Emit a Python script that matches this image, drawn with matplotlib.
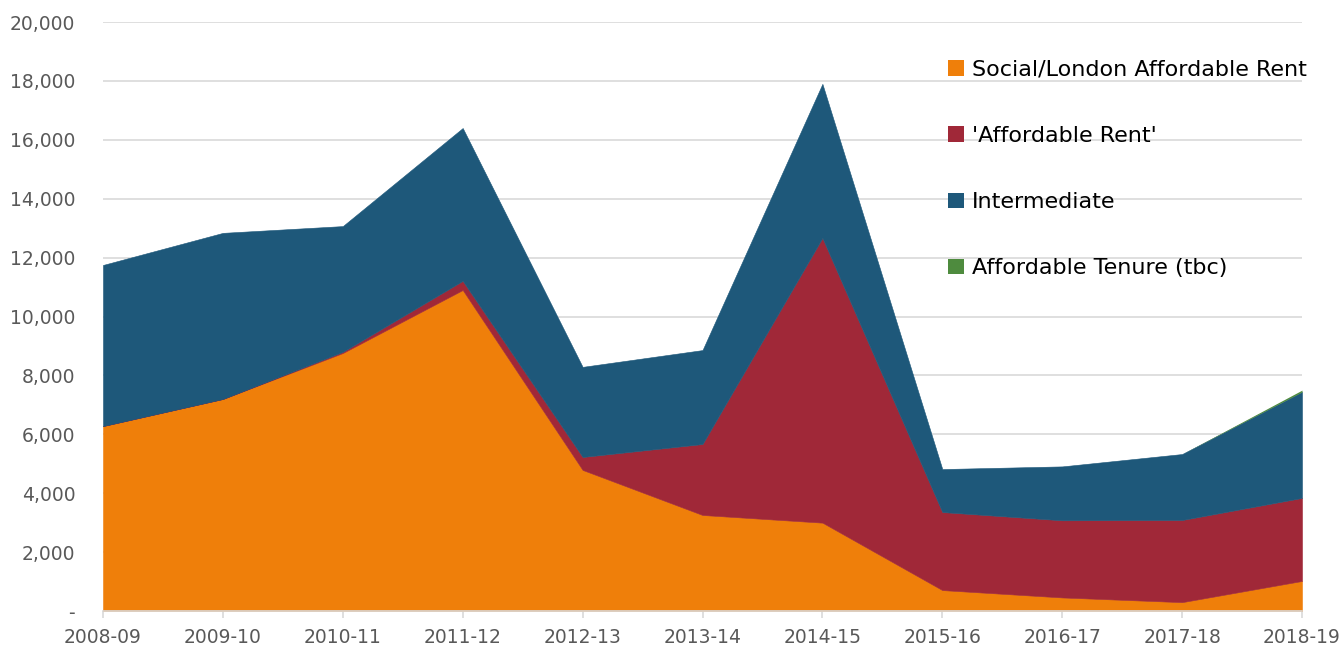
import matplotlib
matplotlib.use("Agg")
import matplotlib.pyplot as plt
from matplotlib.patches import Patch
from matplotlib.ticker import FuncFormatter

years = ['2008-09', '2009-10', '2010-11', '2011-12', '2012-13', '2013-14',
         '2014-15', '2015-16', '2016-17', '2017-18', '2018-19']
social = [6280, 7200, 8760, 10900, 4790, 3260, 3000, 710, 460, 300, 1020]
afford_rent = [0, 0, 40, 310, 440, 2410, 9670, 2650, 2620, 2790, 2820]
intermediate = [5470, 5640, 4270, 5190, 3060, 3190, 5230, 1460, 1830, 2240, 3600]
tenure = [0, 0, 0, 0, 0, 0, 0, 0, 0, 0, 60]

labels = ['Social/London Affordable Rent', "'Affordable Rent'",
          'Intermediate', 'Affordable Tenure (tbc)']
colors = ['#EF7F0A', '#A02838', '#1E587A', '#4E8B3E']

fig = plt.figure(figsize=(13.44, 6.54), dpi=100)
ax = fig.add_axes([103 / 1344, 43 / 654, 1199 / 1344, 589 / 654])

x = list(range(len(years)))
base = [0] * len(x)
for vals, c in zip([social, afford_rent, intermediate, tenure], colors):
    top = [b + v for b, v in zip(base, vals)]
    lw = 0 if c == colors[-1] else 0.4
    ax.fill_between(x, base, top, color=c, linewidth=lw, edgecolor=c, zorder=2)
    base = top

ax.set_xlim(0, len(years) - 1)
ax.set_ylim(0, 20000)
ax.set_yticks(range(0, 20001, 2000))
ax.yaxis.set_major_formatter(FuncFormatter(lambda v, p: '-' if v == 0 else f'{int(v):,}'))
ax.set_xticks(x)
ax.set_xticklabels(years)

ax.grid(axis='y', color='#d9d9d9', linewidth=1.2, zorder=0)
ax.set_axisbelow(True)
for s in ['top', 'right', 'left']:
    ax.spines[s].set_visible(False)
ax.spines['bottom'].set_color('#d9d9d9')
ax.spines['bottom'].set_linewidth(1.2)
ax.tick_params(axis='y', length=0, pad=20, labelsize=13.5, labelcolor='#595959')
ax.tick_params(axis='x', length=5, color='#d9d9d9', width=1.2, pad=7,
               labelsize=13.5, labelcolor='#595959')

handles = [Patch(facecolor=c, edgecolor='none') for c in colors]
ax.legend(handles, labels, loc='upper left', bbox_to_anchor=(0.705, 0.936),
          frameon=False, fontsize=16, labelspacing=2.08, handlelength=0.7,
          handleheight=0.7, handletextpad=0.35, borderpad=0, borderaxespad=0)

fig.savefig('out.png', dpi=100)
